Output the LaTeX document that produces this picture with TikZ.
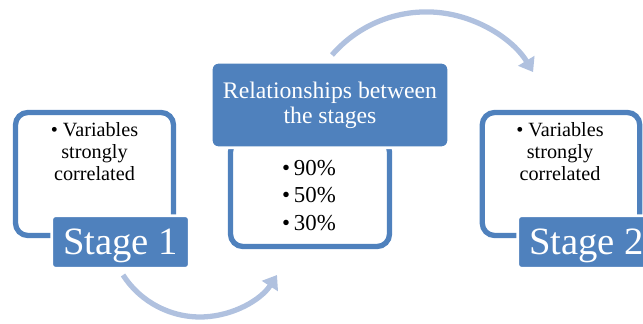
\documentclass[tikz,border=0pt]{standalone}
\usepackage{fontspec}
\setmainfont{Liberation Serif}
\usetikzlibrary{arrows.meta}
\definecolor{stageblue}{RGB}{79,129,189}
\definecolor{arcblue}{RGB}{176,193,223}

\begin{document}
\begin{tikzpicture}[x=0.02cm,y=-0.02cm,
		frame/.style={draw=stageblue,line width=3pt,rounded corners=7pt,fill=white},
		stagebox/.style={fill=stageblue,draw=white,line width=1.5pt,rounded corners=2pt,text=white,inner sep=0pt,
			text depth=0pt,minimum width=2.75cm,minimum height=1.05cm,font=\fontsize{22}{24}\selectfont},
		headbox/.style={fill=stageblue,draw=white,line width=1.5pt,rounded corners=4pt,text=white,inner sep=0pt,
			align=center,minimum width=4.75cm,minimum height=1.71cm,font=\fontsize{13.5}{14.2}\selectfont},
		boxtext/.style={anchor=north,align=center,inner sep=0pt,font=\fontsize{11.5}{12.5}\selectfont},
		flow/.style={draw=arcblue,line width=3pt,-{Triangle[length=7.5pt,width=10.5pt]}}]
				\useasboundingbox (0,0) rectangle (643,324);
				\clip (0,0) rectangle (643,324);
				% curved arrows between the stages
				\coordinate (lowstart) at (123,275);
				\coordinate (topstart) at (332,55);
				\draw[flow] (lowstart) arc[start angle=147.2,end angle=32.8,radius=91.6];
				\draw[flow] (topstart) arc[start angle=220.9,end angle=328.8,radius=124.8];
				% frames
				\node[frame,minimum width=3.16cm,minimum height=2.46cm] (box1) at (94.5,174) {};
				\node[frame,minimum width=3.18cm,minimum height=2.14cm] (box2) at (310,193) {};
				\node[frame,minimum width=3.15cm,minimum height=2.46cm] (box3) at (561,174) {};
				% texts in the frames
				\node[boxtext] (txt1) at (94.5,122) {\textbullet\ Variables\\strongly\\correlated};
				\node[boxtext] (txt3) at (560,122) {\textbullet\ Variables\\strongly\\correlated};
				\node[boxtext,font=\fontsize{13}{15.9}\selectfont] (rates) at (309,159.5) {\textbullet\,90\%\\\textbullet\,50\%\\\textbullet\,30\%};
				% headers
				\node[headbox] (head) at (330,105) {Relationships between\\the stages};
				\node[stagebox] (stage1) at (120.5,242) {Stage 1};
				\node[stagebox] (stage2) at (586.5,242) {Stage 2};
			\end{tikzpicture}
\end{document}
